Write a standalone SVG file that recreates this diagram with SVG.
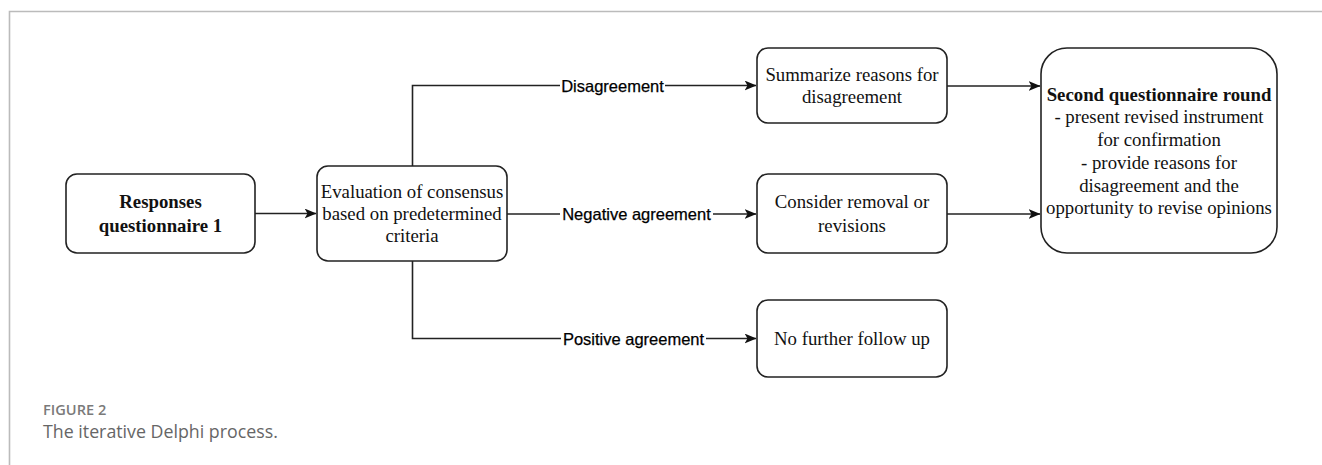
<svg xmlns="http://www.w3.org/2000/svg" width="1322" height="465" viewBox="0 0 1322 465">
<defs>
<style>
.box{fill:#fff;stroke:#222;stroke-width:1.6}
.t{font-family:"Liberation Serif","Times New Roman",serif;font-size:18.8px;fill:#111;text-anchor:middle}
.b{font-weight:bold}
.edge{fill:none;stroke:#222;stroke-width:1.6}
.lbl{font-family:"Liberation Sans",Arial,sans-serif;font-size:16.5px;fill:#000;stroke:#000;stroke-width:0.25;text-anchor:middle}
.lb{fill:#fff}
</style>
<marker id="arr" viewBox="0 0 12 10" refX="11.5" refY="5" markerWidth="12" markerHeight="10" markerUnits="userSpaceOnUse" orient="auto">
<path d="M0,0 L12,5 L0,10 L3,5 Z" fill="#111"/>
</marker>
</defs>
<rect width="1322" height="465" fill="#fff"/>
<path d="M9.5,465 V11.5 H1322" fill="none" stroke="#bbb" stroke-width="1.6"/>

<g id="connectors">
<path class="edge" d="M255,213.5 H316" marker-end="url(#arr)"/>
<path class="edge" d="M412.5,166 V85.5 H756" marker-end="url(#arr)"/>
<path class="edge" d="M507,214 H756" marker-end="url(#arr)"/>
<path class="edge" d="M412.5,261 V338.5 H756" marker-end="url(#arr)"/>
<path class="edge" d="M947,86 H1040" marker-end="url(#arr)"/>
<path class="edge" d="M947,214 H1040" marker-end="url(#arr)"/>
<rect class="lb" x="560" y="76" width="105" height="19"/>
<text class="lbl" x="612.5" y="91.5">Disagreement</text>
<rect class="lb" x="560" y="205" width="153" height="19"/>
<text class="lbl" x="636.5" y="220">Negative agreement</text>
<rect class="lb" x="561" y="329" width="145" height="19"/>
<text class="lbl" x="633.5" y="344.5">Positive agreement</text>
</g>

<g id="responses">
<rect class="box" x="66" y="174" width="189" height="79" rx="11"/>
<text class="t b" x="160.5" y="208">Responses</text>
<text class="t b" x="160.5" y="232">questionnaire 1</text>
</g>

<g id="evaluation">
<rect class="box" x="317" y="166" width="190" height="95" rx="11"/>
<text class="t" x="412" y="198">Evaluation of consensus</text>
<text class="t" x="412" y="220">based on predetermined</text>
<text class="t" x="412" y="242">criteria</text>
</g>

<g id="summarize">
<rect class="box" x="757" y="48" width="190" height="75" rx="11"/>
<text class="t" x="852" y="81">Summarize reasons for</text>
<text class="t" x="852" y="103">disagreement</text>
</g>

<g id="consider">
<rect class="box" x="757" y="174" width="190" height="79" rx="11"/>
<text class="t" x="852" y="208">Consider removal or</text>
<text class="t" x="852" y="231.5">revisions</text>
</g>

<g id="nofurther">
<rect class="box" x="757" y="300" width="190" height="77" rx="11"/>
<text class="t" x="852" y="345">No further follow up</text>
</g>

<g id="second">
<rect class="box" x="1041" y="48" width="236" height="205" rx="26"/>
<text class="t b" x="1159" y="100.5">Second questionnaire round</text>
<text class="t" x="1159" y="123">- present revised instrument</text>
<text class="t" x="1159" y="145.5">for confirmation</text>
<text class="t" x="1159" y="169">- provide reasons for</text>
<text class="t" x="1159" y="191.5">disagreement and the</text>
<text class="t" x="1159" y="214">opportunity to revise opinions</text>
</g>

<g id="caption">
<text x="43" y="415" font-family="'Open Sans',sans-serif" font-size="14.6" font-weight="600" fill="#7a7a7a">FIGURE 2</text>
<text x="43" y="438" font-family="'Open Sans',sans-serif" font-size="17.8" fill="#666">The iterative Delphi process.</text>
</g>
</svg>
